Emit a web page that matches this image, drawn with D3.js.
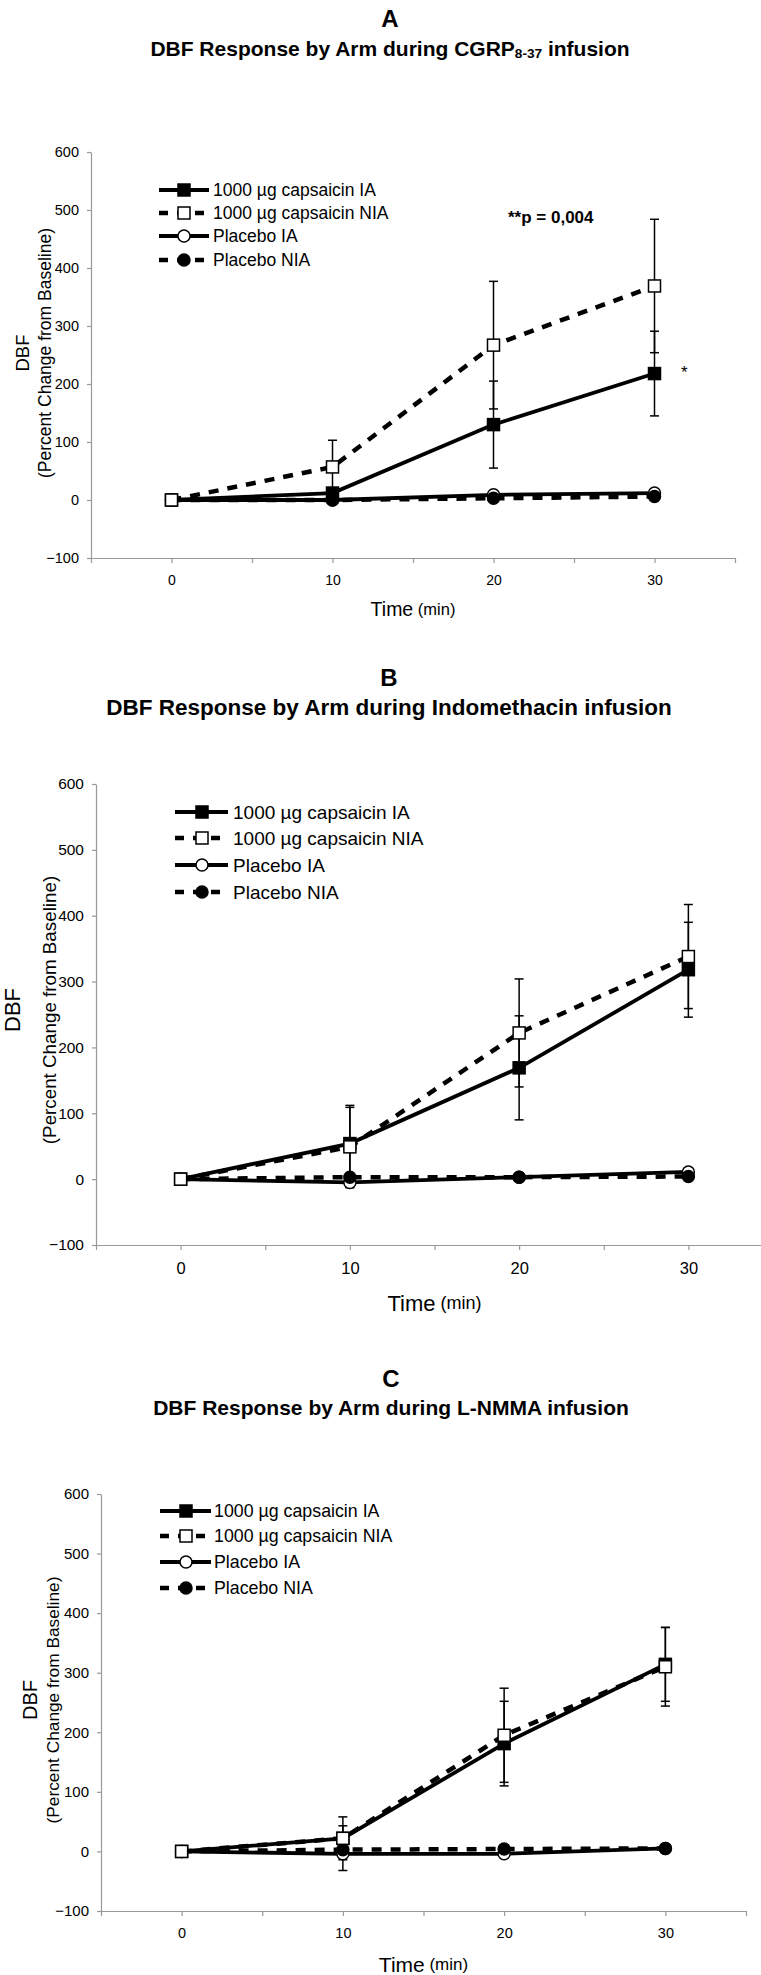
<!DOCTYPE html>
<html lang="en">
<head>
<meta charset="UTF-8">
<title>DBF Response by Arm</title>
<script src="https://cdnjs.cloudflare.com/ajax/libs/d3/7.8.5/d3.min.js"></script>
<style>
  * { margin: 0; padding: 0; }
  body { background: #fff; width: 761px; height: 1975px; overflow: hidden; }
  svg { display: block; font-family: 'Liberation Sans', Arial, sans-serif; }
</style>
</head>
<body>
<div id="chart"></div>
<script>
// ---- data ----
const times = [0, 10, 20, 30];
const xTickMarks = [-5, 0, 5, 10, 15, 20, 25, 30, 35];
const xTickLabels = [0, 10, 20, 30];
const yTicks = [-100, 0, 100, 200, 300, 400, 500, 600];
const seriesNames = ['1000 \u00b5g capsaicin IA', '1000 \u00b5g capsaicin NIA', 'Placebo IA', 'Placebo NIA'];

// panel A - CGRP8-37
const capIA_A = [0, 12, 130, 218];
const capIA_A_err = [0, 0, 75, 73];
const capNIA_A = [0, 57, 267, 369];
const capNIA_A_err = [0, 46, 110, 115];
const plaIA_A = [0, 0, 9, 12];
const plaIA_A_err = [0, 0, 0, 0];
const plaNIA_A = [0, 0, 3, 6];
const plaNIA_A_err = [0, 0, 0, 0];

// panel B - Indomethacin
const capIA_B = [0, 54, 169, 318];
const capIA_B_err = [0, 58, 79, 72];
const capNIA_B = [0, 49, 222, 338];
const capNIA_B_err = [0, 60, 82, 79];
const plaIA_B = [0, -5, 3, 11];
const plaIA_B_err = [0, 8, 0, 0];
const plaNIA_B = [0, 3, 3, 4];
const plaNIA_B_err = [0, 0, 0, 0];

// panel C - L-NMMA
const capIA_C = [0, 22, 181, 314];
const capIA_C_err = [0, 21, 71, 62];
const capNIA_C = [0, 22, 195, 310];
const capNIA_C_err = [0, 36, 79, 66];
const plaIA_C = [0, -4, -4, 5];
const plaIA_C_err = [0, 28, 0, 0];
const plaNIA_C = [0, 3, 4, 5];
const plaNIA_C_err = [0, 0, 0, 0];

// series styles: solid/dashed line, marker shape, fill
const styles = [
  { dash: null, shape: 'square', fill: '#000' },
  { dash: '10,9', shape: 'square', fill: '#fff' },
  { dash: null, shape: 'circle', fill: '#fff' },
  { dash: '10,9', shape: 'circle', fill: '#000' }
];

const panels = [
  {
    letter: 'A', title: 'DBF Response by Arm during CGRP', sub: '8-37', titleEnd: ' infusion',
    cx: 390, letterY: 18, titleY: 48, titleSize: 21,
    xr: [91, 735], yr: [558, 152], yTickSize: 14.5, xTickSize: 14, xLabelDy: 22,
    timeY: 609, timeSize: [19.5, 16.5],
    dbf: { x: 22, sx: 45, cy: 353, size: 18.5, subSize: 17.5 },
    legend: { x0: 159, x1: 209, mx: 184, tx: 213, rows: [190, 213, 236, 260], size: 17.5 },
    values: [capIA_A, capNIA_A, plaIA_A, plaNIA_A],
    errors: [capIA_A_err, capNIA_A_err, plaIA_A_err, plaNIA_A_err],
    notes: [
      { text: '**p = 0,004', x: 508, y: 217, size: 17, bold: true },
      { text: '*', x: 681, y: 372, size: 17, bold: false }
    ]
  },
  {
    letter: 'B', title: 'DBF Response by Arm during Indomethacin infusion', sub: null, titleEnd: '',
    cx: 389, letterY: 677, titleY: 707, titleSize: 22.5,
    xr: [96, 773], yr: [1245, 784], yTickSize: 15.5, xTickSize: 16.5, xLabelDy: 23,
    timeY: 1303, timeSize: [22, 18],
    dbf: { x: 12, sx: 49, cy: 1010, size: 22, subSize: 18.8 },
    legend: { x0: 175, x1: 228, mx: 202, tx: 233, rows: [812, 838, 865, 892], size: 19 },
    values: [capIA_B, capNIA_B, plaIA_B, plaNIA_B],
    errors: [capIA_B_err, capNIA_B_err, plaIA_B_err, plaNIA_B_err],
    notes: []
  },
  {
    letter: 'C', title: 'DBF Response by Arm during L-NMMA infusion', sub: null, titleEnd: '',
    cx: 391, letterY: 1378, titleY: 1407, titleSize: 21,
    xr: [101, 746], yr: [1911, 1494], yTickSize: 15, xTickSize: 14.5, xLabelDy: 22,
    timeY: 1964, timeSize: [21, 17],
    dbf: { x: 30, sx: 53, cy: 1700, size: 20, subSize: 17.3 },
    legend: { x0: 160, x1: 211, mx: 186, tx: 214, rows: [1511, 1536, 1562, 1588], size: 17.8 },
    values: [capIA_C, capNIA_C, plaIA_C, plaNIA_C],
    errors: [capIA_C_err, capNIA_C_err, plaIA_C_err, plaNIA_C_err],
    notes: []
  }
];

const svg = d3.select('#chart').append('svg')
  .attr('width', 761)
  .attr('height', 1975);

function drawMarker(g, shape, fill, cx, cy) {
  if (shape === 'square') {
    g.append('rect')
      .attr('x', cx - 6).attr('y', cy - 6)
      .attr('width', 12).attr('height', 12)
      .attr('fill', fill).attr('stroke', '#000').attr('stroke-width', 1.5);
  } else {
    g.append('circle')
      .attr('cx', cx).attr('cy', cy).attr('r', 6)
      .attr('fill', fill).attr('stroke', '#000').attr('stroke-width', 1.5);
  }
}

function drawPanel(p) {
  const g = svg.append('g');

  // headings
  g.append('text')
    .attr('x', p.cx).attr('y', p.letterY)
    .attr('text-anchor', 'middle').attr('dominant-baseline', 'central')
    .attr('font-size', 24).attr('font-weight', 'bold')
    .text(p.letter);

  const t = g.append('text')
    .attr('x', p.cx).attr('y', p.titleY)
    .attr('text-anchor', 'middle').attr('dominant-baseline', 'central')
    .attr('font-size', p.titleSize).attr('font-weight', 'bold');
  t.append('tspan').text(p.title);
  if (p.sub) {
    t.append('tspan').attr('dy', 5).attr('font-size', p.titleSize * 0.65).text(p.sub);
    t.append('tspan').attr('dy', -5).text(p.titleEnd);
  }

  const x = d3.scaleLinear().domain([-5, 35]).range(p.xr);
  const y = d3.scaleLinear().domain([-100, 600]).range(p.yr);

  // axes
  const yAxis = g.append('g')
    .attr('transform', `translate(${p.xr[0]},0)`)
    .call(d3.axisLeft(y).tickValues(yTicks).tickSize(4).tickSizeOuter(0).tickPadding(8));
  yAxis.selectAll('text').attr('font-size', p.yTickSize).attr('fill', '#000')
    .attr('font-family', "'Liberation Sans', Arial, sans-serif");

  const xAxis = g.append('g')
    .attr('transform', `translate(0,${p.yr[0]})`)
    .call(d3.axisBottom(x).tickValues(xTickMarks).tickSize(5).tickSizeOuter(0)
      .tickFormat(d => xTickLabels.includes(d) ? d : ''));
  xAxis.selectAll('text')
    .attr('y', p.xLabelDy).attr('dy', '0.35em')
    .attr('font-size', p.xTickSize).attr('fill', '#000')
    .attr('font-family', "'Liberation Sans', Arial, sans-serif");

  [yAxis, xAxis].forEach(a => {
    a.selectAll('path, line').attr('stroke', '#999').attr('stroke-width', 1.2);
  });

  // axis titles
  const midX = (p.xr[0] + p.xr[1]) / 2;
  const tt = g.append('text')
    .attr('x', midX).attr('y', p.timeY)
    .attr('text-anchor', 'middle').attr('dominant-baseline', 'central');
  tt.append('tspan').attr('font-size', p.timeSize[0]).text('Time');
  tt.append('tspan').attr('font-size', p.timeSize[1]).text(' (min)');

  g.append('text')
    .attr('transform', `translate(${p.dbf.x},${p.dbf.cy}) rotate(-90)`)
    .attr('text-anchor', 'middle').attr('dominant-baseline', 'central')
    .attr('font-size', p.dbf.size)
    .text('DBF');
  g.append('text')
    .attr('transform', `translate(${p.dbf.sx},${p.dbf.cy}) rotate(-90)`)
    .attr('text-anchor', 'middle').attr('dominant-baseline', 'central')
    .attr('font-size', p.dbf.subSize)
    .text('(Percent Change from Baseline)');

  // error bars
  p.values.forEach((vals, si) => {
    vals.forEach((v, i) => {
      const e = p.errors[si][i];
      if (!e) return;
      const cx = x(times[i]);
      const eg = g.append('g').attr('stroke', '#000').attr('stroke-width', 1.5);
      eg.append('line').attr('x1', cx).attr('x2', cx).attr('y1', y(v - e)).attr('y2', y(v + e));
      eg.append('line').attr('x1', cx - 4.5).attr('x2', cx + 4.5).attr('y1', y(v - e)).attr('y2', y(v - e));
      eg.append('line').attr('x1', cx - 4.5).attr('x2', cx + 4.5).attr('y1', y(v + e)).attr('y2', y(v + e));
    });
  });

  // lines
  const line = d3.line().x((d, i) => x(times[i])).y(d => y(d));
  [2, 3, 0, 1].forEach(si => {
    const s = styles[si];
    g.append('path')
      .datum(p.values[si])
      .attr('d', line)
      .attr('fill', 'none')
      .attr('stroke', '#000')
      .attr('stroke-width', s.dash ? 4.5 : 3.8)
      .attr('stroke-dasharray', s.dash);
  });

  // markers
  [2, 3, 0, 1].forEach(si => {
    const s = styles[si];
    p.values[si].forEach((v, i) => drawMarker(g, s.shape, s.fill, x(times[i]), y(v)));
  });

  // legend
  const L = p.legend;
  seriesNames.forEach((name, si) => {
    const s = styles[si];
    const ry = L.rows[si];
    g.append('line')
      .attr('x1', L.x0).attr('x2', L.x1).attr('y1', ry).attr('y2', ry)
      .attr('stroke', '#000')
      .attr('stroke-width', s.dash ? 4.5 : 3.8)
      .attr('stroke-dasharray', s.dash ? '9,9' : null);
    drawMarker(g, s.shape, s.fill, L.mx, ry);
    g.append('text')
      .attr('x', L.tx).attr('y', ry)
      .attr('dominant-baseline', 'central')
      .attr('font-size', L.size)
      .text(name);
  });

  // annotations
  p.notes.forEach(n => {
    g.append('text')
      .attr('x', n.x).attr('y', n.y)
      .attr('dominant-baseline', 'central')
      .attr('font-size', n.size)
      .attr('font-weight', n.bold ? 'bold' : 'normal')
      .text(n.text);
  });
}

panels.forEach(drawPanel);
</script>
</body>
</html>
